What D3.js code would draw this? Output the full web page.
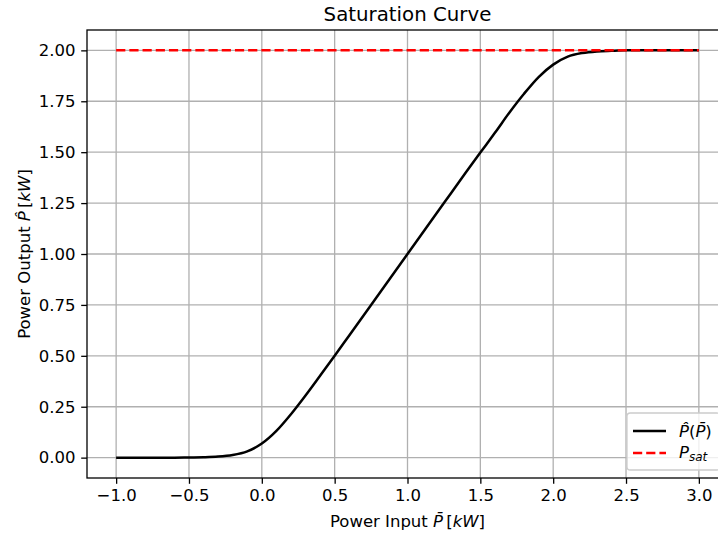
<!DOCTYPE html>
<html>
<head>
<meta charset="utf-8">
<script src="https://cdn.jsdelivr.net/npm/d3@7"></script>
<style>
  body { margin: 0; background: #fff; }
  svg { font-family: "DejaVu Sans", sans-serif; }
  .grid line { stroke: #b0b0b0; stroke-width: 1.3; }
</style>
</head>
<body>
<div id="chart"></div>
<script>
'use strict';

// ---------- Data ---------- //
var inputP = [-1.0, -0.8, -0.6, -0.5, -0.4, -0.3, -0.2, -0.1, 0.0, 0.1, 0.2, 0.3, 0.4, 0.5, 0.6,
              0.75, 1.0, 1.25, 1.4, 1.5, 1.6, 1.7, 1.8, 1.9, 2.0, 2.1, 2.2, 2.3, 2.4, 2.5, 2.75, 3.0];
var outputP = [0.0, 0.0, 0.0, 0.001, 0.002, 0.005, 0.013, 0.031, 0.069, 0.131, 0.213, 0.305, 0.402, 0.50, 0.60,
               0.75, 1.0, 1.25, 1.4, 1.498, 1.595, 1.695, 1.787, 1.869, 1.93, 1.969, 1.987, 1.995, 1.998, 2.0, 2.0, 2.0];
var satX = [-1.0, 3.0];
var satY = [2.0, 2.0];

var xTicks = [-1.0, -0.5, 0.0, 0.5, 1.0, 1.5, 2.0, 2.5, 3.0];
var yTicks = [0.0, 0.25, 0.5, 0.75, 1.0, 1.25, 1.5, 1.75, 2.0];

// ---------- Layout ---------- //
var width = 718, height = 536;
var axL = 87, axR = 728, axT = 30, axB = 478;
var fs = 16.5;

var svg = d3.select('#chart').append('svg')
  .attr('width', width)
  .attr('height', height);

var x = d3.scaleLinear().domain([-1.2, 3.2]).range([axL, axR]);
var y = d3.scaleLinear().domain([-0.1, 2.1]).range([axB, axT]);

function fmtX(d) { return d3.format('.1f')(d).replace('-', '\u2212'); }
function fmtY(d) { return d3.format('.2f')(d).replace('-', '\u2212'); }

// grid
svg.append('g').attr('class', 'grid')
  .selectAll('line').data(xTicks).enter().append('line')
  .attr('x1', function (d) { return x(d); })
  .attr('x2', function (d) { return x(d); })
  .attr('y1', axT).attr('y2', axB);
svg.append('g').attr('class', 'grid')
  .selectAll('line').data(yTicks).enter().append('line')
  .attr('x1', axL).attr('x2', axR)
  .attr('y1', function (d) { return y(d); })
  .attr('y2', function (d) { return y(d); });

// axes
var xAxis = svg.append('g')
  .attr('transform', 'translate(0,' + axB + ')')
  .call(d3.axisBottom(x).tickValues(xTicks).tickFormat(fmtX).tickSizeInner(5.8).tickSizeOuter(0).tickPadding(5.8));
var yAxis = svg.append('g')
  .attr('transform', 'translate(' + axL + ',0)')
  .call(d3.axisLeft(y).tickValues(yTicks).tickFormat(fmtY).tickSizeInner(5.8).tickSizeOuter(0).tickPadding(5.8));
[xAxis, yAxis].forEach(function (a) {
  a.select('.domain').remove();
  a.selectAll('line').attr('stroke', '#000').attr('stroke-width', 1.3);
  a.selectAll('text').attr('font-size', fs).attr('font-family', 'DejaVu Sans').attr('fill', '#000');
});

// lines
var line = d3.line()
  .x(function (d) { return x(d[0]); })
  .y(function (d) { return y(d[1]); })
  .curve(d3.curveMonotoneX);

svg.append('path')
  .datum(d3.zip(inputP, outputP))
  .attr('d', line)
  .attr('fill', 'none')
  .attr('stroke', '#000')
  .attr('stroke-width', 2.5);

svg.append('path')
  .datum(d3.zip(satX, satY))
  .attr('d', line)
  .attr('fill', 'none')
  .attr('stroke', '#ff0000')
  .attr('stroke-width', 2.5)
  .attr('stroke-dasharray', '9.2,4');

// spines
svg.append('rect')
  .attr('x', axL).attr('y', axT)
  .attr('width', axR - axL).attr('height', axB - axT)
  .attr('fill', 'none').attr('stroke', '#000').attr('stroke-width', 1.3);

// title
svg.append('text')
  .attr('x', (axL + axR) / 2).attr('y', 21)
  .attr('text-anchor', 'middle')
  .attr('font-size', 19.8)
  .text('Saturation Curve');

// axis labels
var xl = svg.append('text')
  .attr('x', (axL + axR) / 2).attr('y', 527)
  .attr('text-anchor', 'middle')
  .attr('font-size', fs);
xl.append('tspan').text('Power Input ');
xl.append('tspan').attr('font-style', 'italic').text('P\u0304');
xl.append('tspan').text('\u2009[');
xl.append('tspan').attr('font-style', 'italic').text('kW');
xl.append('tspan').text(']');

var yl = svg.append('text')
  .attr('transform', 'translate(30,' + (axT + axB) / 2 + ') rotate(-90)')
  .attr('text-anchor', 'middle')
  .attr('font-size', fs);
yl.append('tspan').text('Power Output ');
yl.append('tspan').attr('font-style', 'italic').text('P\u0302');
yl.append('tspan').text('\u2009[');
yl.append('tspan').attr('font-style', 'italic').text('kW');
yl.append('tspan').text(']');

// legend
var lg = svg.append('g');
lg.append('rect')
  .attr('x', 627).attr('y', 413)
  .attr('width', 93).attr('height', 57)
  .attr('rx', 3.3)
  .attr('fill', '#fff').attr('fill-opacity', 0.8)
  .attr('stroke', '#cccccc').attr('stroke-width', 1.3);

var entries = [
  { color: '#000', dash: null, cy: 431 },
  { color: '#ff0000', dash: '9.2,4', cy: 453 }
];
lg.selectAll('line').data(entries).enter().append('line')
  .attr('x1', 633).attr('x2', 666)
  .attr('y1', function (d) { return d.cy; })
  .attr('y2', function (d) { return d.cy; })
  .attr('stroke', function (d) { return d.color; })
  .attr('stroke-width', 2.5)
  .attr('stroke-dasharray', function (d) { return d.dash; });

var t1 = lg.append('text').attr('x', 679).attr('y', 437).attr('font-size', fs);
t1.append('tspan').attr('font-style', 'italic').text('P\u0302');
t1.append('tspan').text('(');
t1.append('tspan').attr('font-style', 'italic').text('P\u0304');
t1.append('tspan').text(')');

var t2 = lg.append('text').attr('x', 679).attr('y', 458).attr('font-size', fs);
t2.append('tspan').attr('font-style', 'italic').text('P');
t2.append('tspan').attr('font-style', 'italic').attr('font-size', 12).attr('dy', 3).text('sat');
</script>
</body>
</html>
